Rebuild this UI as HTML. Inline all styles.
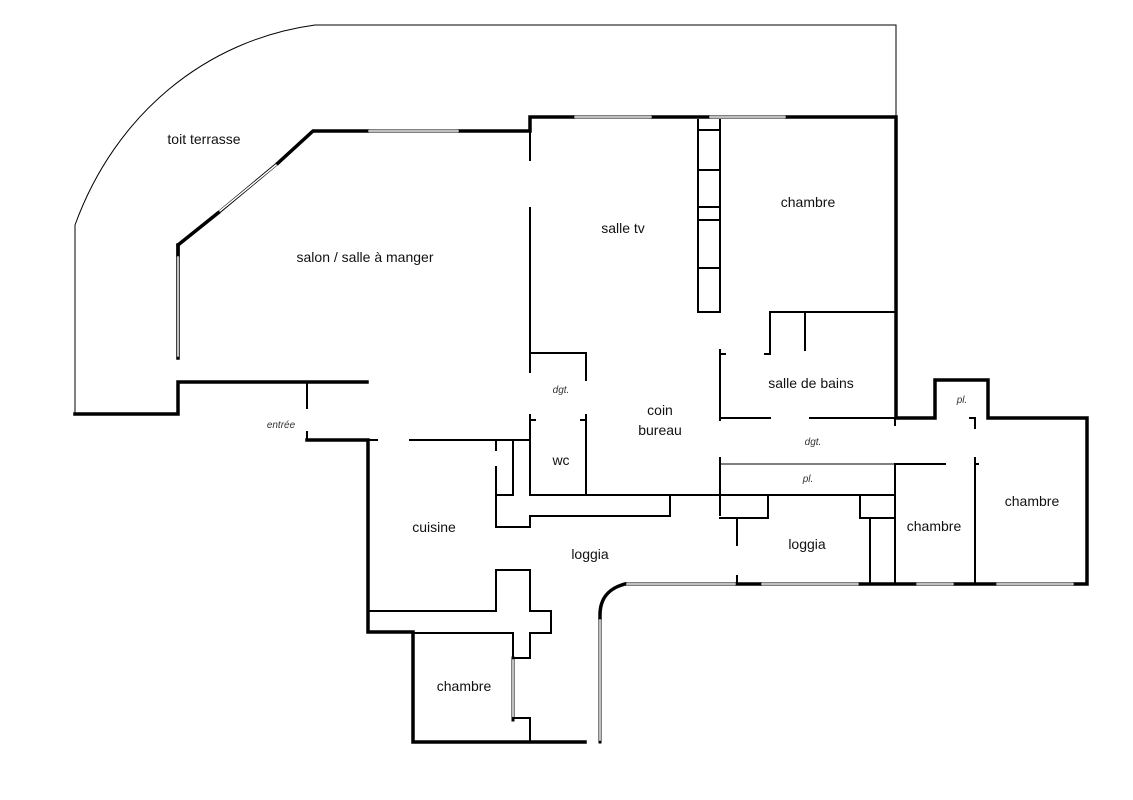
<!DOCTYPE html>
<html><head><meta charset="utf-8"><style>
html,body{margin:0;padding:0;background:#fff;}
svg{display:block;}
text{font-family:"Liberation Sans",sans-serif;fill:#111;}
.l{font-size:14px;text-anchor:middle;}
.s{font-size:10px;font-style:italic;text-anchor:middle;fill:#333;}
</style></head><body>
<svg width="1133" height="800" viewBox="0 0 1133 800" xmlns="http://www.w3.org/2000/svg">
<g fill="none" stroke="#000" stroke-linecap="square">
<path d="M75,413 V225 C115,115 205,40 315,25 H896 V115" stroke-width="1"/>
<g stroke-width="3.5">
<path d="M75,414 H178 V382 H367"/>
<path d="M178,358 V245 L218,213"/>
<path d="M278,163 L313,131 H367"/>
<path d="M460,131 H530 V117 H573"/>
<path d="M653,117 H708"/>
<path d="M787,117 H896 V418 H935 V380 H988 V418 H1087 V584 H1075"/>
<path d="M178,245 V255"/>
<path d="M307,440 H368 V632 H413 V742 H585"/>
<path d="M625,584 Q600,590 600,615 V618"/>
<path d="M737,584 H760"/><path d="M860,584 H915"/><path d="M955,584 H995"/>
</g>
<g stroke-width="3" stroke="#000"><path d="M178,255 V358 M218,213 L278,163 M367,131 H460 M573,117 H653 M708,117 H787 M625,584 H737 M760,584 H860 M915,584 H955 M995,584 H1075 M600,618 V742 M513,658 V720"/></g>
<g stroke-width="1.5" stroke="#fff"><path d="M178,257 V356 M220,211 L276,165 M369,131 H458 M575,117 H651 M710,117 H785 M627,584 H735 M762,584 H858 M917,584 H953 M997,584 H1073 M600,620 V740 M513,660 V718"/></g>
<g stroke-width="2">
<path d="M530,131 V160 M530,208 V372 M530,353 H586 V380"/>
<path d="M530,415 V495 H895 M530,420 H535 M586,415 V495 M581,420 H586"/>
<path d="M698,120 V312 H720 V120 M698,170 H720 M698,207 H720 M698,220 H720 M698,268 H720 M698,130 H720"/>
<path d="M720,350 V420 M720,354 H725 M765,354 H770 V312 H895 M805,312 V350"/>
<path d="M720,418 H770 M810,418 H895"/>
<path d="M720,458 V515 M895,418 V425 M895,464 V584 M895,464 H945 M975,458 V584 M975,464 H978 M975,418 V428 M970,418 H975"/>
<path d="M720,518 H768 V495 M737,518 V545 M860,495 V518 H895 M870,518 V584 M737,576 V584"/>
<path d="M307,382 V408 M307,432 V440 M368,440 H377 M410,440 H530 M496,440 V450 M513,440 V495 H496 V527 H530 V516 H670 V495 M496,467 V495"/>
<path d="M368,611 H496 V570 H530 V611 H551 V633 H530 V658 H513 V633 H413"/>
<path d="M513,718 H530 V742"/>
</g>
<path d="M720,464 H895" stroke-width="1"/>
</g>
<text class="l" x="204" y="144">toit terrasse</text>
<text class="l" x="365" y="262">salon / salle à manger</text>
<text class="l" x="623" y="233">salle tv</text>
<text class="l" x="808" y="207">chambre</text>
<text class="l" x="811" y="388">salle de bains</text>
<text class="l" x="660" y="415">coin</text>
<text class="l" x="660" y="435">bureau</text>
<text class="l" x="561" y="465">wc</text>
<text class="l" x="434" y="532">cuisine</text>
<text class="l" x="590" y="559">loggia</text>
<text class="l" x="807" y="549">loggia</text>
<text class="l" x="934" y="531">chambre</text>
<text class="l" x="1032" y="506">chambre</text>
<text class="l" x="464" y="691">chambre</text>
<text class="s" x="561" y="393">dgt.</text>
<text class="s" x="813" y="445">dgt.</text>
<text class="s" x="808" y="482">pl.</text>
<text class="s" x="962" y="403">pl.</text>
<text class="s" x="281" y="428">entrée</text>
</svg>
</body></html>
